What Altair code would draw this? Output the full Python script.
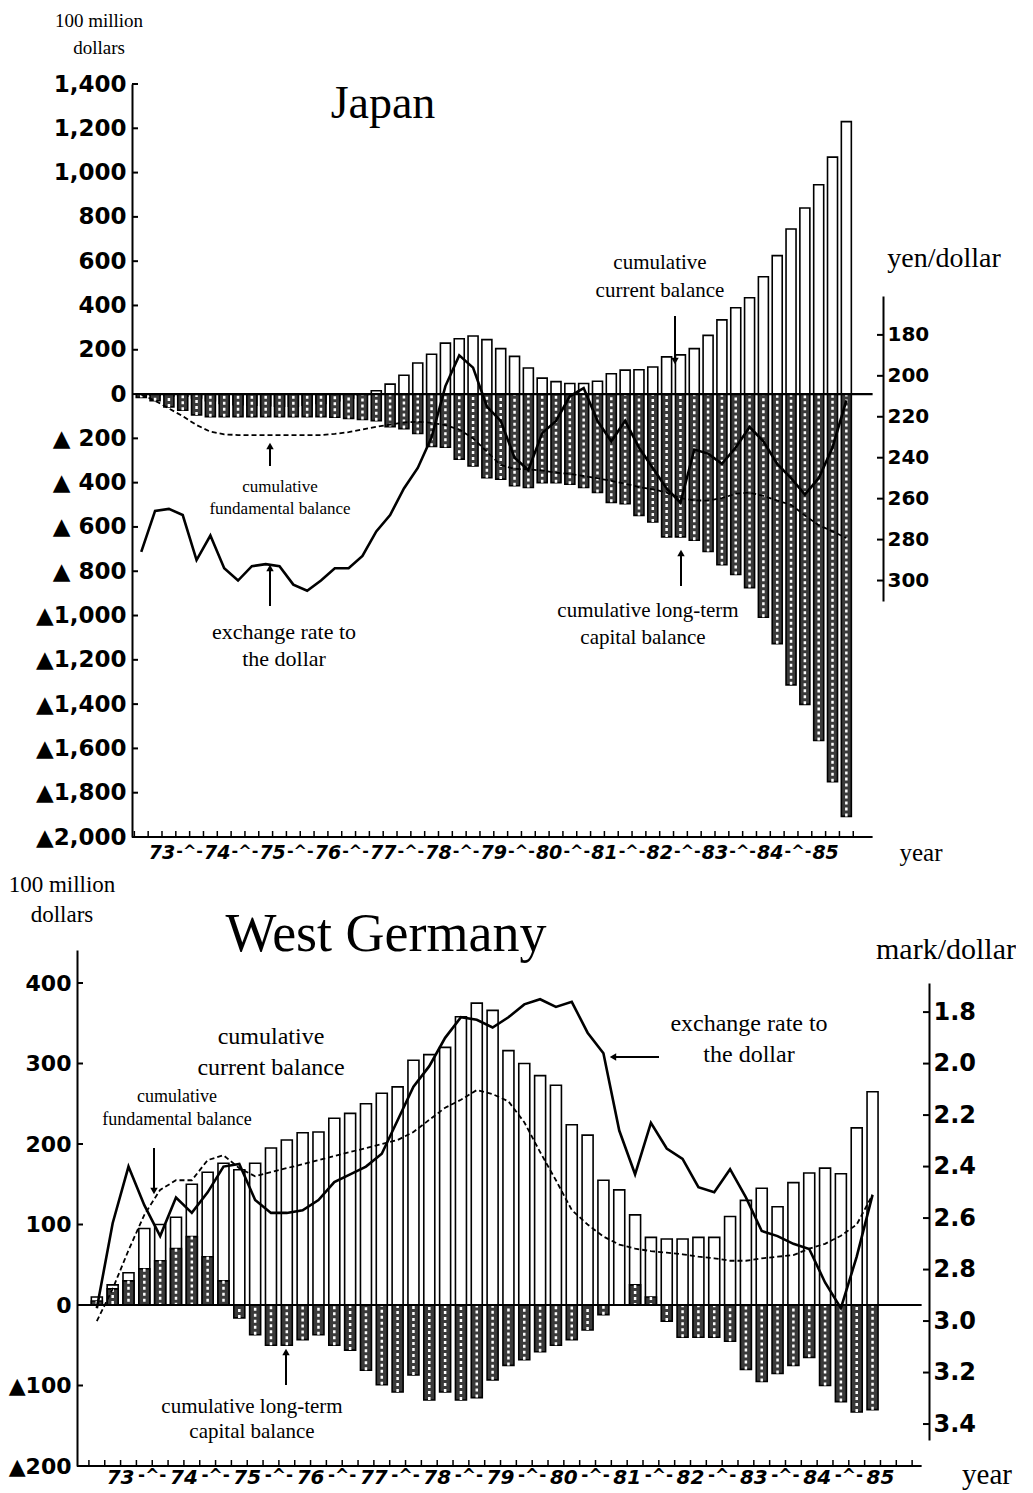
import altair as alt
import pandas as pd

# ---------------- data (quarterly, 1973 Q1 onward) ----------------
year_labels = ["73", "74", "75", "76", "77", "78", "79", "80", "81", "82", "83", "84", "85"]

# Japan, 100 million dollars
jp_current = [-1, -5, -8, -10, -18, -30, -42, -48, -50, -52, -55, -55, -50, -42, -30, -18,
              -5, 15, 45, 85, 140, 180, 230, 250, 262, 246, 205, 170, 118, 72, 56, 48,
              48, 58, 92, 108, 110, 122, 168, 177, 205, 265, 335, 390, 435, 530, 625, 745,
              840, 945, 1070, 1230]
jp_capital = [-15, -30, -58, -73, -94, -102, -102, -102, -102, -102, -102, -102, -102, -102, -105, -110,
              -115, -120, -147, -156, -178, -236, -240, -294, -325, -378, -384, -414, -422, -400, -400, -407,
              -422, -444, -489, -495, -548, -578, -645, -645, -660, -711, -771, -815, -874, -1008, -1127, -1313,
              -1401, -1564, -1750, -1907]
jp_fundamental = [-2, -30, -65, -100, -140, -170, -182, -185, -185, -185, -185, -185, -185, -185, -180, -172,
                  -160, -148, -138, -128, -125, -130, -140, -160, -200, -260, -320, -338, -340, -345, -355, -360,
                  -370, -380, -392, -405, -420, -430, -445, -470, -480, -481, -470, -450, -445, -460, -481, -500,
                  -548, -592, -620, -650]
jp_yen = [286, 266, 265, 268, 290, 278, 294, 300, 293, 292, 293, 302, 305, 300, 294, 294,
          288, 276, 268, 255, 245, 230, 205, 190, 196, 215, 222, 240, 246, 228, 222, 210,
          206, 222, 232, 222, 235, 245, 255, 262, 236, 238, 243, 235, 225, 232, 243, 250,
          258, 250, 235, 212]

# West Germany, 100 million dollars (to 1985 Q2)
de_current = [10, 25, 40, 95, 100, 109, 150, 165, 176, 168, 176, 195, 205, 214, 215, 232,
              238, 250, 263, 271, 304, 311, 320, 358, 375, 366, 316, 300, 285, 273, 224, 211,
              155, 143, 112, 84, 82, 82, 84, 84, 110, 130, 145, 122, 152, 164, 170, 163,
              220, 265]
de_capital = [5, 20, 30, 45, 55, 70, 85, 60, 30, -16, -37, -50, -50, -43, -37, -50,
              -56, -81, -99, -108, -87, -118, -108, -118, -115, -93, -75, -68, -58, -50, -43, -31,
              -12, 0, 25, 10, -20, -40, -40, -40, -45, -80, -95, -85, -75, -65, -100, -120,
              -133, -130]
de_fundamental = [-20, 20, 68, 112, 143, 155, 155, 180, 186, 170, 160, 165, 170, 175, 180, 185,
                  190, 195, 200, 205, 215, 230, 245, 255, 267, 262, 253, 227, 190, 155, 118, 100,
                  85, 75, 70, 67, 65, 63, 60, 58, 55, 55, 58, 60, 62, 70, 76, 86,
                  100, 137]
de_mark = [2.95, 2.62, 2.40, 2.55, 2.67, 2.52, 2.58, 2.50, 2.40, 2.39, 2.53, 2.58, 2.58, 2.57, 2.53, 2.46,
           2.43, 2.40, 2.35, 2.22, 2.09, 2.01, 1.90, 1.82, 1.83, 1.86, 1.82, 1.77, 1.75, 1.78, 1.76, 1.88,
           1.96, 2.26, 2.43, 2.23, 2.33, 2.37, 2.48, 2.50, 2.41, 2.52, 2.65, 2.67, 2.70, 2.72, 2.85, 2.95,
           2.75, 2.51]

jp_left_ticks = list(range(-2000, 1401, 200))
jp_right_ticks = [180, 200, 220, 240, 260, 280, 300]
de_left_ticks = [-200, -100, 0, 100, 200, 300, 400]
de_right_ticks = [1.8, 2.0, 2.2, 2.4, 2.6, 2.8, 3.0, 3.2, 3.4]

SERIF = "Liberation Serif"
BOLD = "DejaVu Sans"

one = pd.DataFrame({"d": [0]})


def qframe(cur, cap, fund, rate):
    return pd.DataFrame({"q": [i + 0.5 for i in range(len(cur))],
                         "cur": cur, "cap": cap, "fund": fund, "rate": rate})


def label(text, x, y, size, font=SERIF, weight="normal", align="center"):
    return alt.Chart(one).mark_text(text=text, font=font, fontSize=size, fontWeight=weight,
                                    align=align, baseline="middle", color="black").encode(
        x=alt.value(x), y=alt.value(y))


def arrow(x1, y1, x2, y2, shape):
    line = alt.Chart(one).mark_rule(color="black", strokeWidth=2).encode(
        x=alt.value(x1), y=alt.value(y1), x2=alt.value(x2), y2=alt.value(y2))
    head = alt.Chart(one).mark_point(shape=shape, filled=True, size=55, color="black", opacity=1).encode(
        x=alt.value(x2), y=alt.value(y2))
    return [line, head]


def panel(df, W, H, xdom, ydom, rdom, rrange, left_ticks, left_expr, left_offset, left_fs,
          right_ticks, right_fmt, right_fs, bar_w, x_lo, x_hi, n_bounds, year_fs, year_dy,
          texts, arrows):
    xs = alt.Scale(domain=xdom, nice=False, zero=False)

    def ys():
        return alt.Scale(domain=ydom, nice=False, zero=False)

    def rs():
        return alt.Scale(domain=rdom, range=rrange, nice=False, zero=False)

    left_axis = alt.Axis(orient="left", offset=left_offset, values=left_ticks, labelExpr=left_expr,
                         labelFont=BOLD, labelFontWeight="bold", labelFontSize=left_fs, labelColor="black",
                         tickSize=0, labelPadding=6, domainColor="black", domainWidth=2, grid=False,
                         title=None)
    X = alt.X("q:Q", scale=xs, axis=None)

    layers = []
    layers.append(alt.Chart(df).mark_bar(size=bar_w, fill="white", stroke="black", strokeWidth=1.6).encode(
        X, alt.Y("cur:Q", scale=ys(), axis=left_axis), y2=alt.Y2("zero:Q")).transform_calculate(zero="0"))
    layers.append(alt.Chart(df).mark_bar(size=bar_w, fill="#3a3a3a", stroke="black", strokeWidth=1.6).encode(
        X, alt.Y("cap:Q", scale=ys(), axis=None), y2=alt.Y2("zero:Q")).transform_calculate(zero="0"))
    layers.append(alt.Chart(df).mark_rule(color="white", strokeWidth=2.5, strokeDash=[3, 3]).encode(
        X, alt.Y("cap:Q", scale=ys(), axis=None), y2=alt.Y2("zero:Q")).transform_calculate(zero="0"))
    layers.append(alt.Chart(df).mark_line(color="black", strokeWidth=1.8, strokeDash=[5, 3]).encode(
        X, alt.Y("fund:Q", scale=ys(), axis=None)))
    lim = pd.DataFrame({"a": [x_lo], "b": [x_hi], "z": [0]})
    layers.append(alt.Chart(lim).mark_rule(color="black", strokeWidth=2.2).encode(
        x=alt.X("a:Q", scale=xs, axis=None), x2="b:Q", y=alt.Y("z:Q", scale=ys(), axis=None)))
    layers.append(alt.Chart(lim).mark_rule(color="black", strokeWidth=2.2).encode(
        x=alt.X("a:Q", scale=xs, axis=None), x2="b:Q", y=alt.value(H)))
    # quarterly ticks on the time axis
    layers.append(alt.Chart(pd.DataFrame({"b": list(range(n_bounds))})).mark_rule(
        color="black", strokeWidth=1.5).encode(
        x=alt.X("b:Q", scale=xs, axis=None), y=alt.value(H - 6), y2=alt.value(H)))
    # inward ticks on both value axes
    layers.append(alt.Chart(pd.DataFrame({"v": left_ticks})).mark_rule(
        color="black", strokeWidth=2).encode(
        x=alt.value(-left_offset), x2=alt.value(-left_offset + 6), y=alt.Y("v:Q", scale=ys(), axis=None)))
    layers.append(alt.Chart(pd.DataFrame({"v": right_ticks})).mark_rule(
        color="black", strokeWidth=2).encode(
        x=alt.value(W - 6), x2=alt.value(W), y=alt.Y("v:Q", scale=rs(), axis=None)))
    layers.append(alt.Chart(pd.DataFrame({"c": [4 * i + 2 for i in range(13)], "t": year_labels})).mark_text(
        font=BOLD, fontWeight="bold", fontStyle="italic", fontSize=year_fs, baseline="middle",
        color="black").encode(x=alt.X("c:Q", scale=xs, axis=None), y=alt.value(H + year_dy), text="t:N"))
    layers.append(alt.Chart(pd.DataFrame({"c": [4 * i for i in range(1, 13)]})).mark_text(
        text="-^-", font=BOLD, fontWeight="bold", fontSize=year_fs - 3, baseline="middle",
        color="black").encode(x=alt.X("c:Q", scale=xs, axis=None), y=alt.value(H + year_dy - 2)))

    for t in texts:
        layers.append(label(*t))
    for a in arrows:
        layers.extend(arrow(*a))

    right_axis = alt.Axis(orient="right", values=right_ticks, format=right_fmt, labelFont=BOLD,
                          labelFontWeight="bold", labelFontSize=right_fs, labelColor="black",
                          tickSize=0, labelPadding=4,
                          domainColor="black", domainWidth=2, grid=False, title=None)
    layers.append(alt.Chart(df).mark_line(color="black", strokeWidth=2.6).encode(
        X, alt.Y("rate:Q", scale=rs(), axis=right_axis)))

    return alt.layer(*layers).resolve_scale(y="independent").properties(width=W, height=H)


# ---------------- Japan ----------------
JW, JH = 806, 753
jp_texts = [
    ("100 million", 22, -63, 19), ("dollars", 22, -36, 19),
    ("Japan", 306, 20, 46),
    ("yen/dollar", 867, 175, 28),
    ("year", 844, 769, 25),
    ("cumulative", 583, 179, 21), ("current balance", 583, 207, 21),
    ("cumulative", 203, 403, 17), ("fundamental balance", 203, 425, 17),
    ("exchange rate to", 207, 548, 22), ("the dollar", 207, 575, 22),
    ("cumulative long-term", 571, 527, 21), ("capital balance", 566, 554, 21),
]
jp_arrows = [(598, 232, 598, 277, "triangle-down"), (193, 382, 193, 362, "triangle-up"),
             (193, 522, 193, 484, "triangle-up"), (604, 502, 604, 469, "triangle-up")]
japan = panel(qframe(jp_current, jp_capital, jp_fundamental, jp_yen), JW, JH,
              [-3.786, 53.79], [-2000, 1400], [161, 310], [212, 517],
              jp_left_ticks,
              "datum.value < 0 ? '\u25b2' + (datum.value > -1000 ? '  ' : '') + format(-datum.value, ',') : format(datum.value, ',')",
              -55, 23, jp_right_ticks, "d", 20, 10, 0.143, 53.4, 53, 19, 16,
              jp_texts, jp_arrows)

# ---------------- West Germany ----------------
DW, DH = 852, 516
de_texts = [
    ("100 million", -15, -65, 23), ("dollars", -15, -35, 23),
    ("West Germany", 309, -15, 54),
    ("mark/dollar", 869, 0, 30),
    ("year", 910, 525, 29),
    ("cumulative", 194, 87, 24), ("current balance", 194, 118, 24),
    ("cumulative", 100, 147, 18), ("fundamental balance", 100, 170, 18),
    ("exchange rate to", 672, 74, 24), ("the dollar", 672, 105, 24),
    ("cumulative long-term", 175, 457, 21), ("capital balance", 175, 482, 21),
]
de_arrows = [(77, 198, 77, 241, "triangle-down"), (582, 107, 536, 107, "triangle-left"),
             (209, 435, 209, 402, "triangle-up")]
germany = panel(qframe(de_current, de_capital, de_fundamental, de_mark), DW, DH,
                [-0.437, 52.75], [-200, 441], [1.687, 3.462], [33, 490],
                de_left_ticks,
                "datum.value < 0 ? '\u25b2' + format(-datum.value, 'd') : format(datum.value, 'd')",
                0, 22, de_right_ticks, ".1f", 24, 11, -0.437, 52.6, 53, 20, 12,
                de_texts, de_arrows)

chart = alt.vconcat(japan, germany, spacing=8).properties(
    padding={"left": 0, "top": 4, "right": 0, "bottom": 0}
).configure_view(stroke=None)

chart.save("out.html", embed_options={"renderer": "svg", "actions": False})
